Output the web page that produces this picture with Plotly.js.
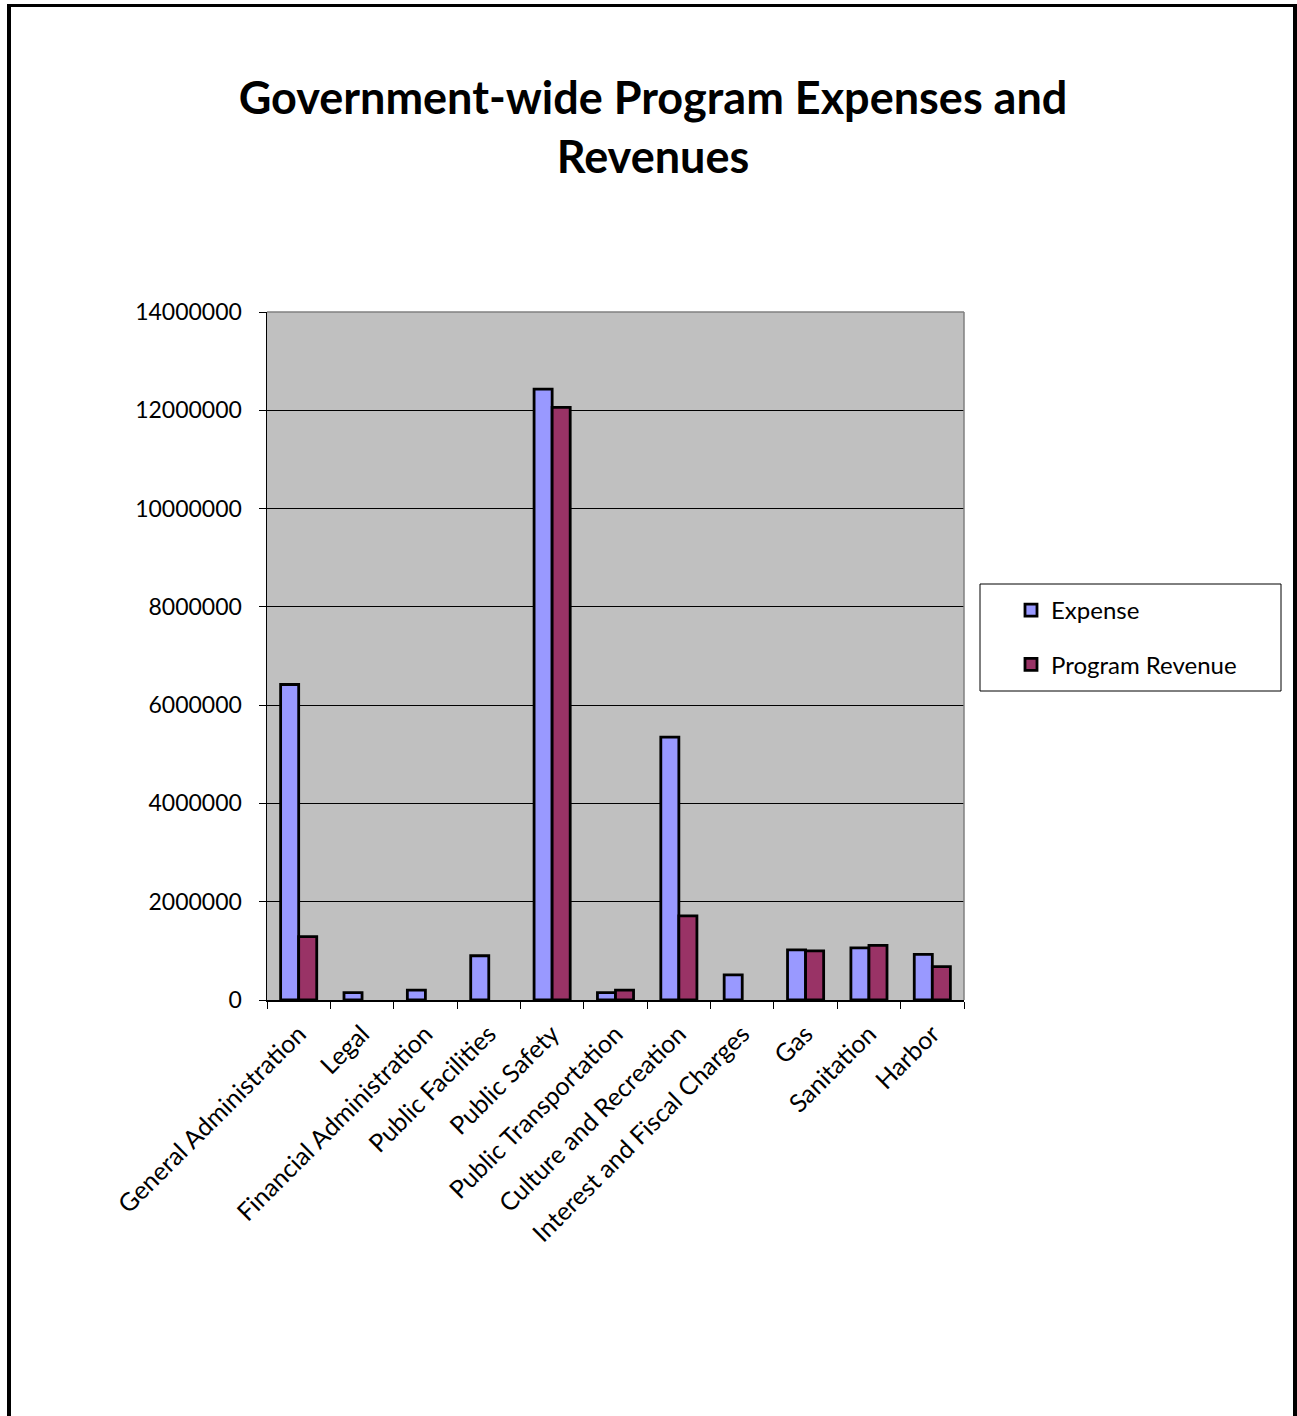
<!DOCTYPE html>
<html>
<head>
<meta charset="utf-8">
<script src="https://cdn.plot.ly/plotly-3.0.1.min.js"></script>
<style>
  html, body { margin: 0; padding: 0; background: #fff; }
  #frame { position: absolute; left: 7px; top: 4px; width: 1282px; height: 1409px;
           border-top: 3px solid #000; border-left: 4px solid #000; border-right: 4px solid #000;
           border-bottom: 1px solid #b0b0b0; pointer-events: none; z-index: 5; }
  #chart { position: absolute; left: 0; top: 0; width: 1297px; height: 1416px; }
</style>
</head>
<body>
<div id="chart"></div>
<div id="frame"></div>
<script>
const categories = [
  "General Administration", "Legal", "Financial Administration", "Public Facilities",
  "Public Safety", "Public Transportation", "Culture and Recreation",
  "Interest and Fiscal Charges", "Gas", "Sanitation", "Harbor"
];
const expense = [6420000, 150000, 200000, 900000, 12430000, 150000, 5350000, 510000, 1020000, 1060000, 930000];
const programRevenue = [1290000, null, null, null, 12060000, 200000, 1710000, null, 1000000, 1110000, 680000];
const yTicks = [0, 2000000, 4000000, 6000000, 8000000, 10000000, 12000000, 14000000];
const yTickLabels = yTicks.map(v => String(v));

const FONT = "Lato, 'Open Sans', sans-serif";

const traces = [
  { type: "bar", name: "Expense", x: categories, y: expense,
    marker: { color: "#9999FF", line: { color: "#000", width: 2.8 } },
    legendgroup: "a", hoverinfo: "x+y" },
  { type: "bar", name: "Program Revenue", x: categories, y: programRevenue,
    marker: { color: "#993366", line: { color: "#000", width: 2.8 } },
    legendgroup: "b", hoverinfo: "x+y" }
];

const layout = {
  width: 1297, height: 1416,
  margin: { l: 267, r: 333, t: 312, b: 416, pad: 0 },
  paper_bgcolor: "#fff",
  plot_bgcolor: "#C0C0C0",
  font: { family: FONT, size: 22, color: "#000" },
  title: {
    text: "<b>Government-wide Program Expenses and<br>Revenues</b>",
    font: { family: FONT, size: 45, color: "#000" },
    x: 653 / 1297, xanchor: "center", xref: "container",
    y: 1 - 114/1416, yanchor: "top", yref: "container"
  },
  barmode: "group",
  bargap: 0.43,
  bargroupgap: 0,
  xaxis: {
    type: "category",
    tickangle: -45,
    ticks: "outside", ticklen: 7, tickcolor: "#000", tickwidth: 1,
    tickson: "boundaries",
    ticklabelstandoff: 8,
    showline: true, linecolor: "#000", linewidth: 1.5,
    showgrid: false, zeroline: false,
    tickfont: { family: FONT, size: 25, color: "#000" },
    mirror: false
  },
  yaxis: {
    range: [0, 14000000],
    tickvals: yTicks, ticktext: yTickLabels,
    ticks: "outside", ticklen: 7, tickcolor: "#000", tickwidth: 1,
    ticklabelstandoff: 12,
    showline: true, linecolor: "#000", linewidth: 1.5,
    showgrid: true, gridcolor: "#000", gridwidth: 1,
    zeroline: false,
    tickfont: { family: FONT, size: 23, color: "#000" }
  },
  showlegend: true,
  legend: {
    x: (1011 - 267) / 697, xanchor: "left",
    y: (1000 - 588) / 688, yanchor: "top",
    bgcolor: "rgba(0,0,0,0)", borderwidth: 0,
    font: { family: FONT, size: 24, color: "#000" },
    tracegroupgap: 20,
    itemwidth: 30,
    traceorder: "grouped"
  },
  shapes: [
    { type: "line", xref: "paper", yref: "paper",
      x0: 1, x1: 1, y0: 0, y1: 1, line: { color: "#808080", width: 1.5 } },
    { type: "line", xref: "paper", yref: "paper",
      x0: 0, x1: 1, y0: 1, y1: 1, line: { color: "#808080", width: 1.5 } },
    { type: "rect", xref: "paper", yref: "paper",
      x0: (980 - 267) / 697, x1: (1281 - 267) / 697,
      y0: (1000 - 691) / 688, y1: (1000 - 584) / 688,
      line: { color: "#000", width: 1 }, fillcolor: "rgba(0,0,0,0)" }
  ]
};

Plotly.newPlot("chart", traces, layout, { displayModeBar: false, staticPlot: true });
</script>
</body>
</html>
